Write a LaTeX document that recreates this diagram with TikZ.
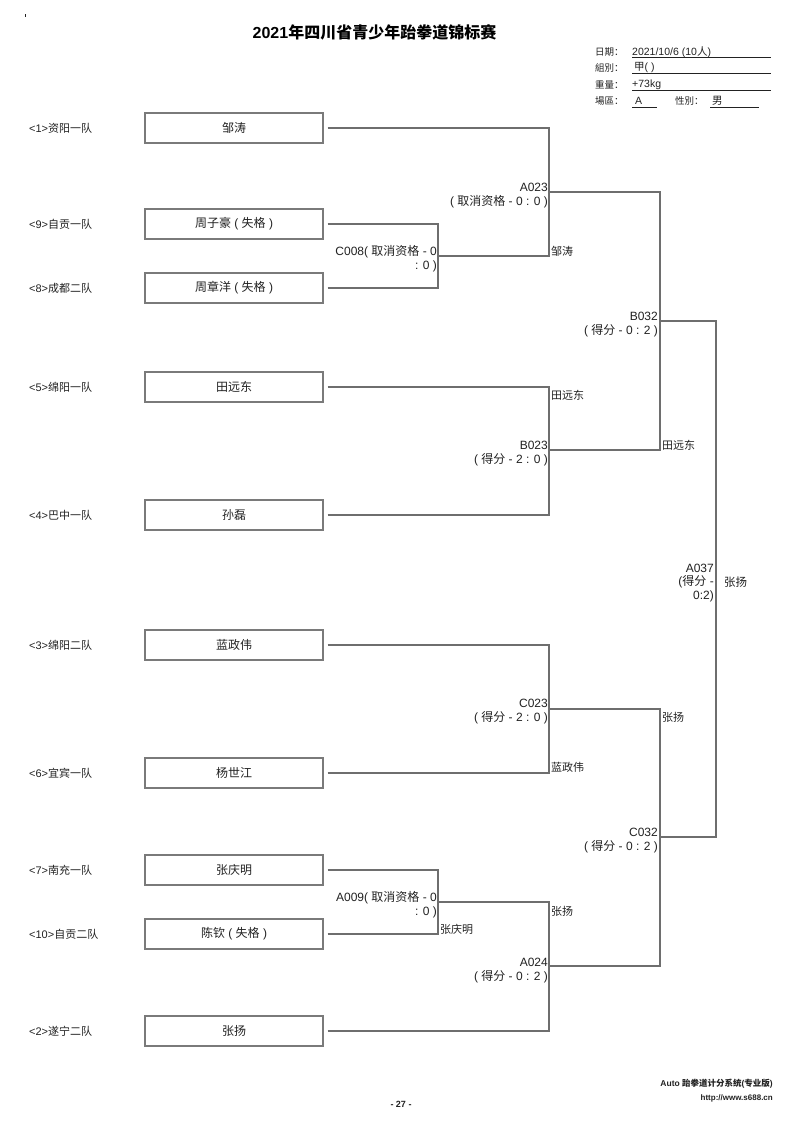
\documentclass[tikz,border=0pt]{standalone}
\usepackage{fontspec}
\setmainfont{Noto Sans CJK SC}
\newfontfamily\arl{Liberation Sans}
\definecolor{boxgray}{HTML}{7A7A7A}
\definecolor{linegray}{HTML}{6E6E6E}
\definecolor{txt}{HTML}{222222}
\begin{document}
\begin{tikzpicture}[x=1pt,y=-1pt,
  box/.style={draw=boxgray,line width=1.3pt,minimum width=178pt,minimum height=30pt,inner sep=0pt,font=\fontsize{12}{14}\selectfont,text=txt},
  seed/.style={anchor=west,font=\fontsize{11}{12}\selectfont,text=txt,inner sep=0pt},
  mlab/.style={anchor=east,font=\fontsize{12}{13}\selectfont,text=txt,inner sep=0pt},
  wlab/.style={anchor=west,font=\fontsize{11}{12}\selectfont,text=txt,inner sep=0pt},
  conn/.style={draw=linegray,line width=1.2pt},
  info/.style={anchor=west,font=\fontsize{9.5}{11}\selectfont,text=txt,inner sep=0pt},
  infov/.style={anchor=west,font=\fontsize{10.5}{11}\selectfont,text=txt,inner sep=0pt},
  uline/.style={draw=txt,line width=0.8pt}]
\useasboundingbox[fill=white] (0,0) rectangle (800,1130);
\draw[txt,line width=0.6pt] (25,14) -- (25,16.5);
% title
\node[font=\bfseries\fontsize{16}{18}\selectfont,text=black] (title) at (374.5,32) {{\arl\bfseries 2021}年四川省青少年跆拳道锦标赛};
% info block
\node[info] (i1) at (595,52) {日期：};
\node[infov] (v1) at (632,52) {{\arl 2021/10/6 (10}人{\arl )}};
\node[info] (i2) at (595,68) {組別：};
\node[infov] (v2) at (634,68) {甲{\arl ( )}};
\node[info] (i3) at (595,85) {重量：};
\node[infov] (v3) at (632,85) {\arl +73kg};
\node[info] (i4) at (595,101) {場區：};
\node[infov] (v4) at (635,101) {\arl A};
\node[info] (i5) at (675,101) {性別：};
\node[infov] (v5) at (712,101) {男};
\draw[uline] (632,57) -- (771,57);
\draw[uline] (632,73) -- (771,73);
\draw[uline] (632,90) -- (771,90);
\draw[uline] (632,107) -- (657,107);
\draw[uline] (710,107) -- (759,107);
% seeds
\node[seed] (s1) at (29,128) {{\arl <1>}资阳一队};
\node[seed] (s9) at (29,224) {{\arl <9>}自贡一队};
\node[seed] (s8) at (29,288) {{\arl <8>}成都二队};
\node[seed] (s5) at (29,387) {{\arl <5>}绵阳一队};
\node[seed] (s4) at (29,515) {{\arl <4>}巴中一队};
\node[seed] (s3) at (29,645) {{\arl <3>}绵阳二队};
\node[seed] (s6) at (29,773) {{\arl <6>}宜宾一队};
\node[seed] (s7) at (29,870) {{\arl <7>}南充一队};
\node[seed] (s10) at (29,934) {{\arl <10>}自贡二队};
\node[seed] (s2) at (29,1031) {{\arl <2>}遂宁二队};
% boxes
\node[box] (b1) at (234,128) {邹涛};
\node[box] (b9) at (234,224) {周子豪{\arl{} ( }失格{\arl{} )}};
\node[box] (b8) at (234,288) {周章洋{\arl{} ( }失格{\arl{} )}};
\node[box] (b5) at (234,387) {田远东};
\node[box] (b4) at (234,515) {孙磊};
\node[box] (b3) at (234,645) {蓝政伟};
\node[box] (b6) at (234,773) {杨世江};
\node[box] (b7) at (234,870) {张庆明};
\node[box] (b10) at (234,934) {陈钦{\arl{} ( }失格{\arl{} )}};
\node[box] (b2) at (234,1031) {张扬};
% match points
\coordinate (C008) at (438,256);
\coordinate (A023) at (549,192);
\coordinate (B023) at (549,450);
\coordinate (B032) at (660,321);
\coordinate (A037) at (716,579);
\coordinate (C023) at (549,709);
\coordinate (A009) at (438,902);
\coordinate (A024) at (549,966);
\coordinate (C032) at (660,837);
% connectors
\draw[conn] ([xshift=4pt]b9.east) -| (C008);
\draw[conn] ([xshift=4pt]b8.east) -| (C008);
\draw[conn] ([xshift=4pt]b1.east) -| (A023);
\draw[conn] (C008) -| (A023);
\draw[conn] ([xshift=4pt]b5.east) -| (B023);
\draw[conn] ([xshift=4pt]b4.east) -| (B023);
\draw[conn] (A023) -| (B032);
\draw[conn] (B023) -| (B032);
\draw[conn] ([xshift=4pt]b3.east) -| (C023);
\draw[conn] ([xshift=4pt]b6.east) -| (C023);
\draw[conn] ([xshift=4pt]b7.east) -| (A009);
\draw[conn] ([xshift=4pt]b10.east) -| (A009);
\draw[conn] (A009) -| (A024);
\draw[conn] ([xshift=4pt]b2.east) -| (A024);
\draw[conn] (C023) -| (C032);
\draw[conn] (A024) -| (C032);
\draw[conn] (B032) -| (A037);
\draw[conn] (C032) -| (A037);
% match labels
\node[mlab] (lA023a) at (548,187) {\arl A023};
\node[mlab] (lA023b) at (548,202) {{\arl ( }取消资格{\arl{} - 0 : 0 )}};
\node[mlab] (lC008a) at (437,252) {{\arl C008( }取消资格{\arl{} - 0}};
\node[mlab] (lC008b) at (437,266) {\arl : 0 )};
\node[mlab] (lB032a) at (658,316) {\arl B032};
\node[mlab] (lB032b) at (658,331) {{\arl ( }得分{\arl{} - 0 : 2 )}};
\node[mlab] (lB023a) at (548,445) {\arl B023};
\node[mlab] (lB023b) at (548,460) {{\arl ( }得分{\arl{} - 2 : 0 )}};
\node[mlab] (lA037a) at (714,568) {\arl A037};
\node[mlab] (lA037b) at (714,582) {{\arl (}得分{\arl{} -}};
\node[mlab] (lA037c) at (714,596) {\arl 0:2)};
\node[mlab] (lC023a) at (548,703) {\arl C023};
\node[mlab] (lC023b) at (548,718) {{\arl ( }得分{\arl{} - 2 : 0 )}};
\node[mlab] (lC032a) at (658,832) {\arl C032};
\node[mlab] (lC032b) at (658,847) {{\arl ( }得分{\arl{} - 0 : 2 )}};
\node[mlab] (lA009a) at (437,898) {{\arl A009( }取消资格{\arl{} - 0}};
\node[mlab] (lA009b) at (437,912) {\arl : 0 )};
\node[mlab] (lA024a) at (548,962) {\arl A024};
\node[mlab] (lA024b) at (548,977) {{\arl ( }得分{\arl{} - 0 : 2 )}};
% winner labels
\node[wlab] (w1) at (551,251) {邹涛};
\node[wlab] (w2) at (551,395) {田远东};
\node[wlab] (w3) at (662,445) {田远东};
\node[wlab,font=\fontsize{11.5}{13}\selectfont] (w4) at (724,582) {张扬};
\node[wlab] (w5) at (662,717) {张扬};
\node[wlab] (w6) at (551,767) {蓝政伟};
\node[wlab] (w7) at (551,911) {张扬};
\node[wlab] (w8) at (440,929) {张庆明};
% footer
\node[font=\arl\bfseries\fontsize{9}{10}\selectfont,text=txt] (page) at (401,1104) {- 27 -};
\node[anchor=east,font=\bfseries\fontsize{8.5}{10}\selectfont,text=txt,inner sep=0pt] (f1) at (773,1084) {{\arl\bfseries Auto }跆拳道计分系统{\arl\bfseries (}专业版{\arl\bfseries )}};
\node[anchor=east,font=\arl\bfseries\fontsize{8}{10}\selectfont,text=txt,inner sep=0pt] (f2) at (773,1098) {http://www.s688.cn};
\end{tikzpicture}
\end{document}
